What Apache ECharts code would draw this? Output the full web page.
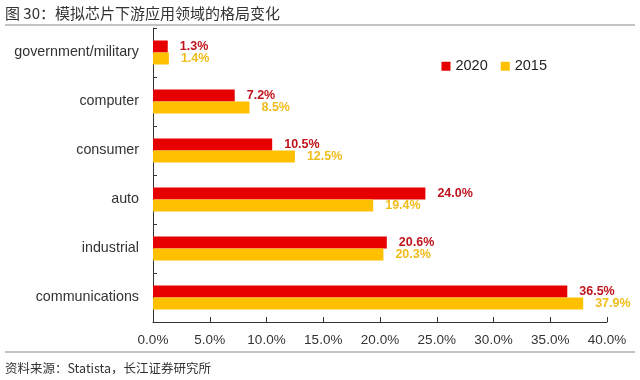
<!DOCTYPE html>
<html><head><meta charset="utf-8">
<script src="https://cdn.jsdelivr.net/npm/echarts@6/dist/echarts.min.js"></script>
<style>html,body{margin:0;padding:0;background:#fff}#c{width:640px;height:380px}</style>
</head><body><div id="c"></div>
<script>
const categories = ["government/military","computer","consumer","auto","industrial","communications"];
const values2020 = [1.3, 7.2, 10.5, 24.0, 20.6, 36.5];
const values2015 = [1.4, 8.5, 12.5, 19.4, 20.3, 37.9];
const seriesNames = ["2020","2015"];
const titleText = "图 30：模拟芯片下游应用领域的格局变化";
const sourceText = "资料来源：Statista，长江证券研究所";

const chart = echarts.init(document.getElementById('c'));
const font = '"Liberation Sans", "Noto Sans CJK SC", sans-serif';
chart.setOption({
  animation:false,
  textStyle:{fontFamily:font},
  graphic:[
    {type:'text', left:5, top:6, style:{text:titleText, font:'15px "Noto Sans CJK SC", sans-serif', fill:'#333'}},
    {type:'line', shape:{x1:5,y1:25,x2:635,y2:25}, style:{stroke:'#888', lineWidth:1}},
    {type:'line', shape:{x1:5,y1:352,x2:635,y2:352}, style:{stroke:'#888', lineWidth:1}},
    {type:'text', left:5, top:362, style:{text:sourceText, font:'12.5px "Noto Sans CJK SC", sans-serif', fill:'#333'}}
  ],
  legend:{
    data:seriesNames, right:88, top:54, itemWidth:9, itemHeight:9, itemGap:13,
    icon:'rect', textStyle:{fontSize:14.5, color:'#222', fontFamily:font}
  },
  grid:{left:153, right:33, top:28, bottom:58},
  xAxis:{
    type:'value', min:0, max:40, interval:5,
    axisLine:{show:true, lineStyle:{color:'#333'}},
    axisTick:{show:true, inside:true, length:5, lineStyle:{color:'#333'}},
    splitLine:{show:false},
    axisLabel:{formatter:v=>v.toFixed(1)+'%', fontSize:13.5, color:'#333', margin:12, fontFamily:font}
  },
  yAxis:{
    type:'category', data:categories, inverse:true,
    axisLine:{show:true, lineStyle:{color:'#333'}},
    axisTick:{show:true, inside:true, length:4, lineStyle:{color:'#333'}},
    axisLabel:{fontSize:14.3, color:'#333', margin:14, fontFamily:font}
  },
  series:[
    {name:seriesNames[0], type:'bar', data:values2020, barWidth:12, barGap:'0%',
     itemStyle:{color:'#e60000'},
     label:{show:true, position:'right', distance:12, formatter:p=>p.value.toFixed(1)+'%', color:'#c0141c', fontWeight:'bold', fontSize:12.5, fontFamily:font}},
    {name:seriesNames[1], type:'bar', data:values2015, barWidth:12, barGap:'0%',
     itemStyle:{color:'#ffc000'},
     label:{show:true, position:'right', distance:12, formatter:p=>p.value.toFixed(1)+'%', color:'#f0bc1c', fontWeight:'bold', fontSize:12.5, fontFamily:font}}
  ]
});
</script></body></html>
